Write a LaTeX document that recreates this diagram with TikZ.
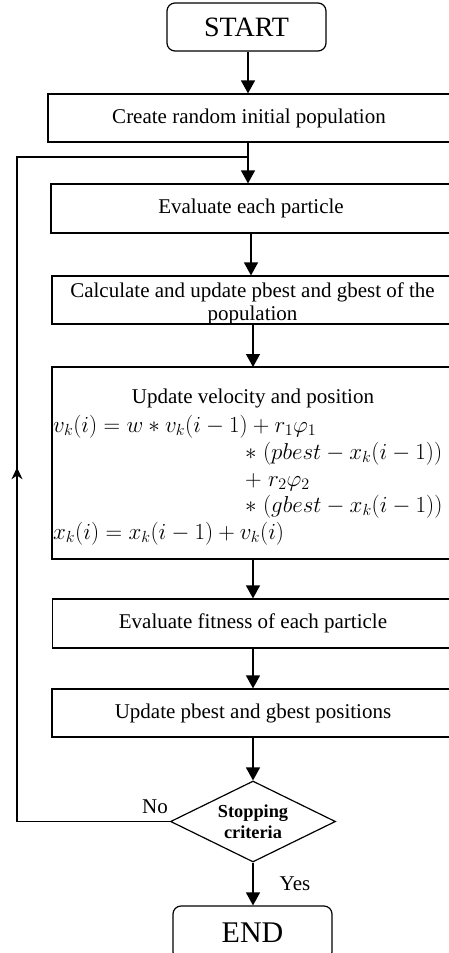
\RequirePackage{fix-cm}
\documentclass[tikz,border=0pt]{standalone}
\usepackage{fontspec}
\setmainfont{Liberation Serif}
\usetikzlibrary{shapes.geometric,arrows.meta}
\begin{document}
\begin{tikzpicture}[x=1pt,y=-1pt,
  box/.style={draw,line width=1.2pt,inner sep=0pt},
  term/.style={draw,line width=1.2pt,rounded corners=8pt,inner sep=0pt},
  txt/.style={font=\fontsize{21}{23}\selectfont,inner sep=0pt},
  eq/.style={font=\fontsize{23}{25}\selectfont,inner sep=0pt,anchor=base west},
  arr/.style={line width=1.3pt,-{Triangle[length=13pt,width=14pt]}},
  lnk/.style={line width=1.3pt}]
\useasboundingbox (0,0) rectangle (449,953);
\clip (0,0) rectangle (449,953);
% terminals
\node[term,minimum width=159pt,minimum height=48pt,font=\fontsize{28}{30}\selectfont] (start) at (246.5,27) {START};
\node[term,minimum width=159pt,minimum height=54pt,font=\fontsize{30}{32}\selectfont] (end) at (252.5,933) {END};
% process boxes
\node[box,txt,minimum width=402pt,minimum height=48pt] (create) at (249,118) {Create random initial population};
\node[box,txt,minimum width=400pt,minimum height=49pt] (eval) at (251,208.5) {Evaluate each particle};
\node[box,minimum width=401pt,minimum height=48pt] (calc) at (252.5,300) {};
\node[txt,align=center] (calctxt) at (252.5,304) {Calculate and update pbest and gbest of the\\population};
\node[box,minimum width=402pt,minimum height=192pt] (upd) at (253,463) {};
\node[txt,anchor=base] (updtitle) at (253,403) {Update velocity and position};
\node[eq] (e1) at (53,432) {$v_k(i) = w * v_k(i-1) + r_1\varphi_1$};
\node[eq] (e2) at (245,459) {$\ast\;\bigl(pbest - x_k(i-1)\bigr)$};
\node[eq] (e3) at (245,486) {$+\;r_2\varphi_2$};
\node[eq] (e4) at (245,512.5) {$\ast\;\bigl(gbest - x_k(i-1)\bigr)$};
\node[eq] (e5) at (53,539) {$x_k(i) = x_k(i-1) + v_k(i)$};
\node[box,txt,minimum width=401pt,minimum height=49pt] (fit) at (253,623.5) {Evaluate fitness of each particle};
\node[box,txt,minimum width=402pt,minimum height=48pt] (pb) at (253,713) {Update pbest and gbest positions};
% decision
\node[draw,line width=1.2pt,diamond,aspect=2,inner sep=0pt,minimum width=165pt,minimum height=81pt] (crit) at (253,821.5) {};
\node[inner sep=0pt,align=center,font=\fontsize{18.3}{21}\selectfont\bfseries] (crittxt) at (253,822) {Stopping\\criteria};
\node[txt] (no) at (155,807) {No};
\node[txt] (yes) at (295,884) {Yes};
% loop coordinates
\coordinate (jn) at (248,157);
\coordinate (lt) at (17,157);
\coordinate (lb) at (17,821.5);
% connectors
\draw[arr] (start.south -| jn) -- (jn |- create.north);
\draw[arr] (jn |- create.south) -- (jn |- eval.north);
\draw[arr] (eval.south) -- (eval.south |- calc.north);
\draw[arr] (253,324) -- (253,367);
\draw[arr] (upd.south) -- (upd.south |- fit.north);
\draw[arr] (fit.south) -- (fit.south |- pb.north);
\draw[arr] (pb.south) -- (pb.south |- crit.north);
\draw[arr] (crit.south) -- (crit.south |- end.north);
\draw[lnk] (crit.west) -- (lb) -- (lt) -- (jn);
\path (lb) -- (lt) coordinate[pos=0.533] (mid);
\draw[line width=1.3pt,-{Stealth[length=12pt,width=11pt]}] (lb) -- (mid);
\end{tikzpicture}
\end{document}
